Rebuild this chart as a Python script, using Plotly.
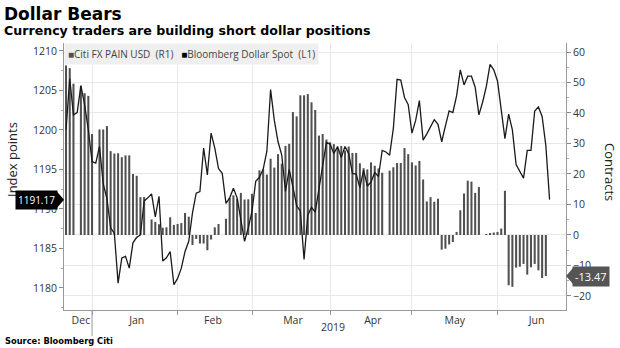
import pandas as pd
import plotly.graph_objects as go

# ---------------- data ----------------
dates = pd.bdate_range("2018-12-21", "2019-06-21")  # weekday axis, 131 points

dollar_spot = [
    1200.0, 1206.5, 1201.9, 1202.2, 1205.6, 1203.2, 1200.0, 1196.0, 1195.8, 1197.9,
    1193.2, 1191.3, 1187.6, 1186.9, 1180.6, 1183.8, 1184.0, 1182.5, 1185.7, 1186.4,
    1186.7, 1191.0, 1191.4, 1191.9, 1189.0, 1191.6, 1183.4, 1183.8, 1184.6, 1180.4,
    1181.2, 1182.5, 1184.6, 1185.9, 1189.5, 1192.0, 1192.2, 1197.7, 1194.3, 1199.6,
    1197.7, 1195.1, 1194.5, 1190.7, 1191.4, 1192.6, 1191.4, 1188.8, 1185.9, 1187.6,
    1189.7, 1193.5, 1194.0, 1195.0, 1197.3, 1205.1, 1201.2, 1198.5, 1196.8, 1192.2,
    1195.0, 1192.8, 1190.4, 1189.7, 1183.6, 1189.2, 1190.2, 1189.6, 1192.5, 1195.4,
    1198.4, 1198.2, 1197.0, 1197.9, 1196.5, 1197.9, 1197.0, 1194.5, 1194.4, 1192.7,
    1194.9, 1192.9, 1193.4, 1194.6, 1194.1, 1197.4, 1197.2, 1196.8, 1200.2, 1206.4,
    1206.3, 1204.1, 1203.2, 1199.6, 1201.2, 1203.7, 1198.7, 1199.5, 1200.4, 1201.3,
    1200.7, 1198.5, 1200.5, 1202.4, 1202.2, 1204.3, 1207.6, 1205.7, 1206.8, 1206.8,
    1205.4, 1201.9, 1203.5, 1205.5, 1208.3, 1207.6, 1206.2, 1202.6, 1198.9, 1202.0,
    1200.0, 1195.6, 1194.7, 1193.9, 1197.4, 1197.4, 1202.4, 1202.9, 1201.7, 1198.0,
    1191.17,
]

citi_pain = [
    55.6, 54.7, 49.6, None, 48.9, 46.5, 45.6, 33.1, None, 34.6,
    34.6, 35.7, 27.5, 26.7, 26.8, 25.5, 26.1, 26.1, 20.0, 19.4,
    12.4, 12.4, None, 5.1, 4.3, 3.5, 2.4, 2.5, 5.8, 3.3,
    3.6, 3.9, 7.2, 6.0, -3.3, -1.3, -2.8, -2.8, -5.0, -1.5,
    2.5, 3.6, None, 5.3, 12.2, 13.0, 11.9, 13.8, 11.6, 11.7,
    13.5, 7.2, 21.2, 21.5, 19.8, 25.0, 22.1, 26.5, 23.4, 29.2,
    29.9, 40.3, 38.9, 45.8, 45.8, 46.2, 43.5, 41.0, 32.6, 33.1,
    31.3, 30.4, 29.8, 28.4, 29.2, 27.7, 29.0, 26.9, 26.9, 23.5,
    21.9, 21.5, 23.8, 22.7, 21.8, 20.4, None, 21.1, 22.2, 23.6,
    23.6, 28.5, 26.5, 23.8, 22.8, 24.3, 18.2, 11.0, 12.4, 10.9,
    11.9, -4.8, -4.5, -3.1, -2.3, 1.0, 8.1, 13.6, 17.8, 17.5,
    13.8, 15.7, None, 0.2, 0.4, 0.8, 1.0, 2.1, 14.5, -16.5,
    -17.0, -10.7, -10.4, -9.5, -13.0, -10.6, -9.5, -11.6, -14.1, -13.47,
    None,
]

month_labels = ["Dec", "Jan", "Feb", "Mar", "Apr", "May", "Jun"]
month_label_pos = ["2018-12-27", "2019-01-17", "2019-02-14 12:00", "2019-03-18",
                   "2019-04-16 12:00", "2019-05-16 12:00", "2019-06-17 12:00"]
month_starts = ["2019-01-01", "2019-02-01", "2019-03-01", "2019-04-01",
                "2019-05-01", "2019-06-03"]
left_ticks = [1180, 1185, 1190, 1195, 1200, 1205, 1210]
right_ticks = [-20, -10, 0, 10, 20, 30, 40, 50, 60]

# ---------------- layout geometry ----------------
W, H = 620, 348
ML, MR, MT, MB = 64, 54, 43, 38
PW, PH = W - ML - MR, H - MT - MB


def px(x):
    return (x - ML) / PW


def py(y):
    return (H - MB - y) / PH


BAR_C = "#505050"
LINE_C = "#1a1a1a"
TICK_FONT = dict(family="Open Sans", size=10.5, color="#333")

fig = go.Figure()
fig.add_trace(go.Bar(x=dates, y=citi_pain, marker_color=BAR_C, marker_line_width=0,
                     yaxis="y", name="Citi FX PAIN USD (R1)", showlegend=False))
fig.add_trace(go.Scatter(x=dates, y=dollar_spot, mode="lines",
                         line=dict(color=LINE_C, width=1.3), yaxis="y2",
                         name="Bloomberg Dollar Spot (L1)", showlegend=False))

last_line = dollar_spot[-1]
last_bar = [v for v in citi_pain if v is not None][-1]

fig.update_layout(
    width=W, height=H,
    margin=dict(l=ML, r=MR, t=MT, b=MB),
    paper_bgcolor="white", plot_bgcolor="white",
    bargap=0.45,
    showlegend=False,
    xaxis=dict(
        type="date",
        range=["2018-12-20 11:00", "2019-06-27 10:00"],
        rangebreaks=[dict(bounds=["sat", "mon"])],
        tickmode="array", tickvals=month_label_pos, ticktext=month_labels,
        ticks="", tickfont=TICK_FONT, showgrid=False,
        showline=True, linecolor="#999", linewidth=1,
        minor=dict(tickmode="array", tickvals=month_starts, ticks="outside",
                   ticklen=4, tickcolor="#999", showgrid=True,
                   gridcolor="#e8e8e8", gridwidth=1),
        zeroline=False,
    ),
    yaxis=dict(
        side="right", range=[-24.6, 62.95],
        tickmode="array", tickvals=right_ticks,
        ticks="outside", ticklen=4, tickcolor="#888", tickfont=TICK_FONT,
        showline=True, linecolor="#999", linewidth=1,
        showgrid=True, gridcolor="#e8e8e8", gridwidth=1,
        zeroline=False,
        minor=dict(dtick=5, ticks="outside", ticklen=2, tickcolor="#aaa", showgrid=False),
    ),
    yaxis2=dict(
        overlaying="y", side="left", range=[1177.2, 1211.0],
        tickmode="array", tickvals=left_ticks,
        ticks="outside", ticklen=4, tickcolor="#888", tickfont=TICK_FONT,
        showline=True, linecolor="#999", linewidth=1,
        showgrid=False, zeroline=False,
        minor=dict(dtick=2.5, ticks="outside", ticklen=2, tickcolor="#aaa", showgrid=False),
    ),
)

TITLE_AX_FONT = dict(family="Open Sans", size=13, color="#222")
ann = []
ann.append(dict(xref="paper", yref="paper", x=px(2), y=py(14), xanchor="left",
                yanchor="middle", showarrow=False, text="<b>Dollar Bears</b>",
                font=dict(family="DejaVu Sans", size=17, color="black")))
ann.append(dict(xref="paper", yref="paper", x=px(2), y=py(31), xanchor="left",
                yanchor="middle", showarrow=False,
                text="<b>Currency traders are building short dollar positions</b>",
                font=dict(family="DejaVu Sans", size=12.6, color="black")))
ann.append(dict(xref="paper", yref="paper", x=px(3), y=py(341), xanchor="left",
                yanchor="middle", showarrow=False, text="<b>Source: Bloomberg Citi</b>",
                font=dict(family="DejaVu Sans", size=8.3, color="black")))
ann.append(dict(xref="paper", yref="paper", x=px(333), y=py(327), xanchor="center",
                yanchor="middle", showarrow=False, text="2019", font=TICK_FONT))
# axis titles
ann.append(dict(xref="paper", yref="paper", x=px(12), y=py(160), xanchor="center",
                yanchor="middle", showarrow=False, text="Index points", textangle=-90,
                font=TITLE_AX_FONT))
ann.append(dict(xref="paper", yref="paper", x=px(610), y=py(172), xanchor="center",
                yanchor="middle", showarrow=False, text="Contracts", textangle=90,
                font=TITLE_AX_FONT))
legend_text = ("<span style='color:%s'>■</span>Citi FX PAIN USD\u00a0\u00a0(R1)\u00a0\u00a0\u00a0"
               "<span style='color:#000'>■</span>Bloomberg Dollar Spot\u00a0\u00a0(L1)" % BAR_C)
ann.append(dict(xref="paper", yref="paper", x=px(64), y=py(43), xanchor="left",
                yanchor="top", showarrow=False, text=legend_text, align="left",
                bgcolor="#efefef", borderpad=3,
                font=dict(family="Open Sans", size=10, color="#444")))
# value tags
ann.append(dict(xref="paper", yref="y2", x=0, y=last_line, xanchor="right",
                yanchor="middle", xshift=-6, showarrow=False, text="%.2f" % last_line,
                bgcolor="black", borderpad=2,
                font=dict(family="Open Sans", size=10, color="white")))
ann.append(dict(xref="paper", yref="y", x=1, y=last_bar, xanchor="left",
                yanchor="middle", xshift=6, showarrow=False, text="%.2f" % last_bar,
                bgcolor="#555", borderpad=2,
                font=dict(family="Open Sans", size=11, color="white")))
fig.update_layout(annotations=ann)

shapes = [
    dict(type="path", xref="paper", xsizemode="pixel", xanchor=0,
         yref="y2", ysizemode="pixel", yanchor=last_line,
         path="M -7,-8 L 0,0 L -7,8 Z", fillcolor="black", line=dict(width=0)),
    dict(type="path", xref="paper", xsizemode="pixel", xanchor=1,
         yref="y", ysizemode="pixel", yanchor=last_bar,
         path="M 7,-8 L 0,0 L 7,8 Z", fillcolor="#555", line=dict(width=0)),
    dict(type="line", xref="x", x0="2019-01-01", x1="2019-01-01",
         yref="paper", y0=0, y1=py(336), line=dict(color="#999", width=1)),
]
fig.update_layout(shapes=shapes)

fig.write_html("out.html")
